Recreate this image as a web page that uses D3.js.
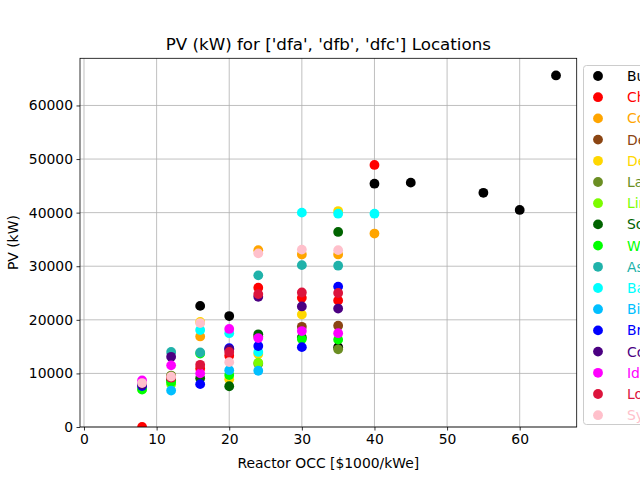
<!DOCTYPE html>
<html>
<head>
<meta charset="utf-8">
<script src="https://cdn.jsdelivr.net/npm/d3@7"></script>
<style>
  html, body { margin: 0; padding: 0; background: #fff; overflow: hidden; }
  svg { display: block; font-family: "DejaVu Sans", sans-serif; }
</style>
</head>
<body>
<svg id="chart" width="640" height="480"></svg>
<script>
// ---- data ----
const occ = [8, 12, 16, 20, 24, 30, 35, 40, 45, 55, 60, 65];
const locations = ["Buffalo", "Chicago", "Columbus", "Detroit", "Des Moines", "Lansing", "Lincoln",
  "South Bend", "Worcester", "Aspen", "Bangor", "Billings", "Bristol", "Concord", "Idaho Falls",
  "Louisville", "Syracuse"];
const buffalo    = [null, null, 22600, 20700, null, null, 14900, 45400, 45600, 43700, 40500, 65600];
const chicago    = [0, 9000, 10900, 13300, 26000, 24100, 23600, 48900, null, null, null, null];
const columbus   = [null, null, 16900, null, 33000, 32200, 32200, 36100, null, null, null, null];
const detroit    = [null, 9500, null, null, 16900, 18700, 18900, null, null, null, null, null];
const desMoines  = [null, null, 19600, 8900, 13600, 21000, 40300, null, null, null, null, null];
const lansing    = [null, 9600, null, null, 11800, null, 14500, null, null, null, null, null];
const lincoln    = [7100, 8000, null, null, 12000, null, null, null, null, null, null, null];
const southBend  = [null, 8700, 9100, 7600, 17300, 16700, 36400, null, null, null, null, null];
const worcester  = [7000, 8400, 13700, 9700, null, 16400, 16300, null, null, null, null, null];
const aspen      = [null, 14000, 13900, null, 28300, 30200, 30100, null, null, null, null, null];
const bangor     = [null, null, 18100, 17500, 14000, 40000, 39800, 39800, null, null, null, null];
const billings   = [null, 6800, null, 10600, 10500, null, null, null, null, null, null, null];
const bristol    = [7650, null, 8000, 14700, 15100, 14900, 26200, null, null, null, null, null];
const concord    = [7900, 13100, null, 14500, 24300, 22500, 22100, null, null, null, null, null];
const idahoFalls = [8700, 11500, 10000, 18300, 16600, 17900, 17500, null, null, null, null, null];
const louisville = [null, 9200, 11600, 14000, 24800, 25100, 25000, null, null, null, null, null];
const syracuse   = [8200, 9400, 19400, 12100, 32400, 33100, 33000, null, null, null, null, null];
const pvSeries = [buffalo, chicago, columbus, detroit, desMoines, lansing, lincoln, southBend,
  worcester, aspen, bangor, billings, bristol, concord, idahoFalls, louisville, syracuse];
const xTicks = [0, 10, 20, 30, 40, 50, 60];
const yTicks = [0, 10000, 20000, 30000, 40000, 50000, 60000];

// ---- styles ----
const colors = ["black", "red", "orange", "saddlebrown", "gold", "olivedrab", "lawngreen",
  "darkgreen", "lime", "lightseagreen", "cyan", "deepskyblue", "blue", "indigo", "magenta",
  "crimson", "pink"];

const svg = d3.select("#chart");
const L = 80, T = 58.3, R = 576.7, B = 427;
const x = d3.scaleLinear().domain([-0.55, 67.85]).range([L, R]);
const y = d3.scaleLinear().domain([0, 68800]).range([B, T]);

// grid
const grid = svg.append("g");
grid.selectAll("line.gx").data(xTicks).join("line")
  .attr("x1", d => x(d)).attr("x2", d => x(d)).attr("y1", T).attr("y2", B)
  .attr("stroke", "#b0b0b0").attr("stroke-width", 0.8);
grid.selectAll("line.gy").data(yTicks).join("line")
  .attr("x1", L).attr("x2", R).attr("y1", d => y(d)).attr("y2", d => y(d))
  .attr("stroke", "#b0b0b0").attr("stroke-width", 0.8);

// clip
svg.append("clipPath").attr("id", "clip").append("rect")
  .attr("x", L).attr("y", T).attr("width", R - L).attr("height", B - T);

// points
const pts = svg.append("g").attr("clip-path", "url(#clip)");
pvSeries.forEach((vals, i) => {
  const data = occ.map((o, j) => ({ o, v: vals[j] })).filter(d => d.v !== null);
  pts.append("g").selectAll("circle").data(data).join("circle")
    .attr("cx", d => x(d.o)).attr("cy", d => y(d.v)).attr("r", 4.9)
    .attr("fill", colors[i]);
});

// axes
const xAxis = svg.append("g").attr("transform", `translate(0,${B})`)
  .call(d3.axisBottom(x).tickValues(xTicks).tickSize(3.5).tickPadding(3.5).tickFormat(d3.format("d")));
const yAxis = svg.append("g").attr("transform", `translate(${L},0)`)
  .call(d3.axisLeft(y).tickValues(yTicks).tickSize(3.5).tickPadding(3.5).tickFormat(d3.format("d")));
[xAxis, yAxis].forEach(a => {
  a.select(".domain").remove();
  a.selectAll("text").attr("font-size", 13.9).attr("font-family", "DejaVu Sans").attr("fill", "black");
  a.selectAll("line").attr("stroke", "black").attr("stroke-width", 0.8);
});
svg.append("rect").attr("x", L).attr("y", T).attr("width", R - L).attr("height", B - T)
  .attr("fill", "none").attr("stroke", "black").attr("stroke-width", 0.8);

// labels
svg.append("text").attr("x", (L + R) / 2).attr("y", 50).attr("text-anchor", "middle")
  .attr("font-size", 16.7).text("PV (kW) for ['dfa', 'dfb', 'dfc'] Locations");
svg.append("text").attr("x", (L + R) / 2).attr("y", 468).attr("text-anchor", "middle")
  .attr("font-size", 13.9).text("Reactor OCC [$1000/kWe]");
svg.append("text").attr("transform", `translate(18,${(T + B) / 2}) rotate(-90)`)
  .attr("text-anchor", "middle").attr("font-size", 13.9).text("PV (kW)");

// legend (extends past the right edge, as in the reference)
const lg = svg.append("g");
lg.append("rect").attr("x", 583.5).attr("y", 65.5).attr("width", 120).attr("height", 359)
  .attr("rx", 3).attr("fill", "white").attr("stroke", "#cccccc").attr("stroke-width", 1);
const items = lg.selectAll("g.item").data(locations).join("g")
  .attr("transform", (d, i) => `translate(0,${76 + i * 21.2})`);
items.append("circle").attr("cx", 598).attr("cy", 0).attr("r", 4.9).attr("fill", (d, i) => colors[i]);
items.append("text").attr("x", 627).attr("y", 5).attr("font-size", 13.9)
  .attr("fill", (d, i) => colors[i]).text(d => d);
</script>
</body>
</html>
